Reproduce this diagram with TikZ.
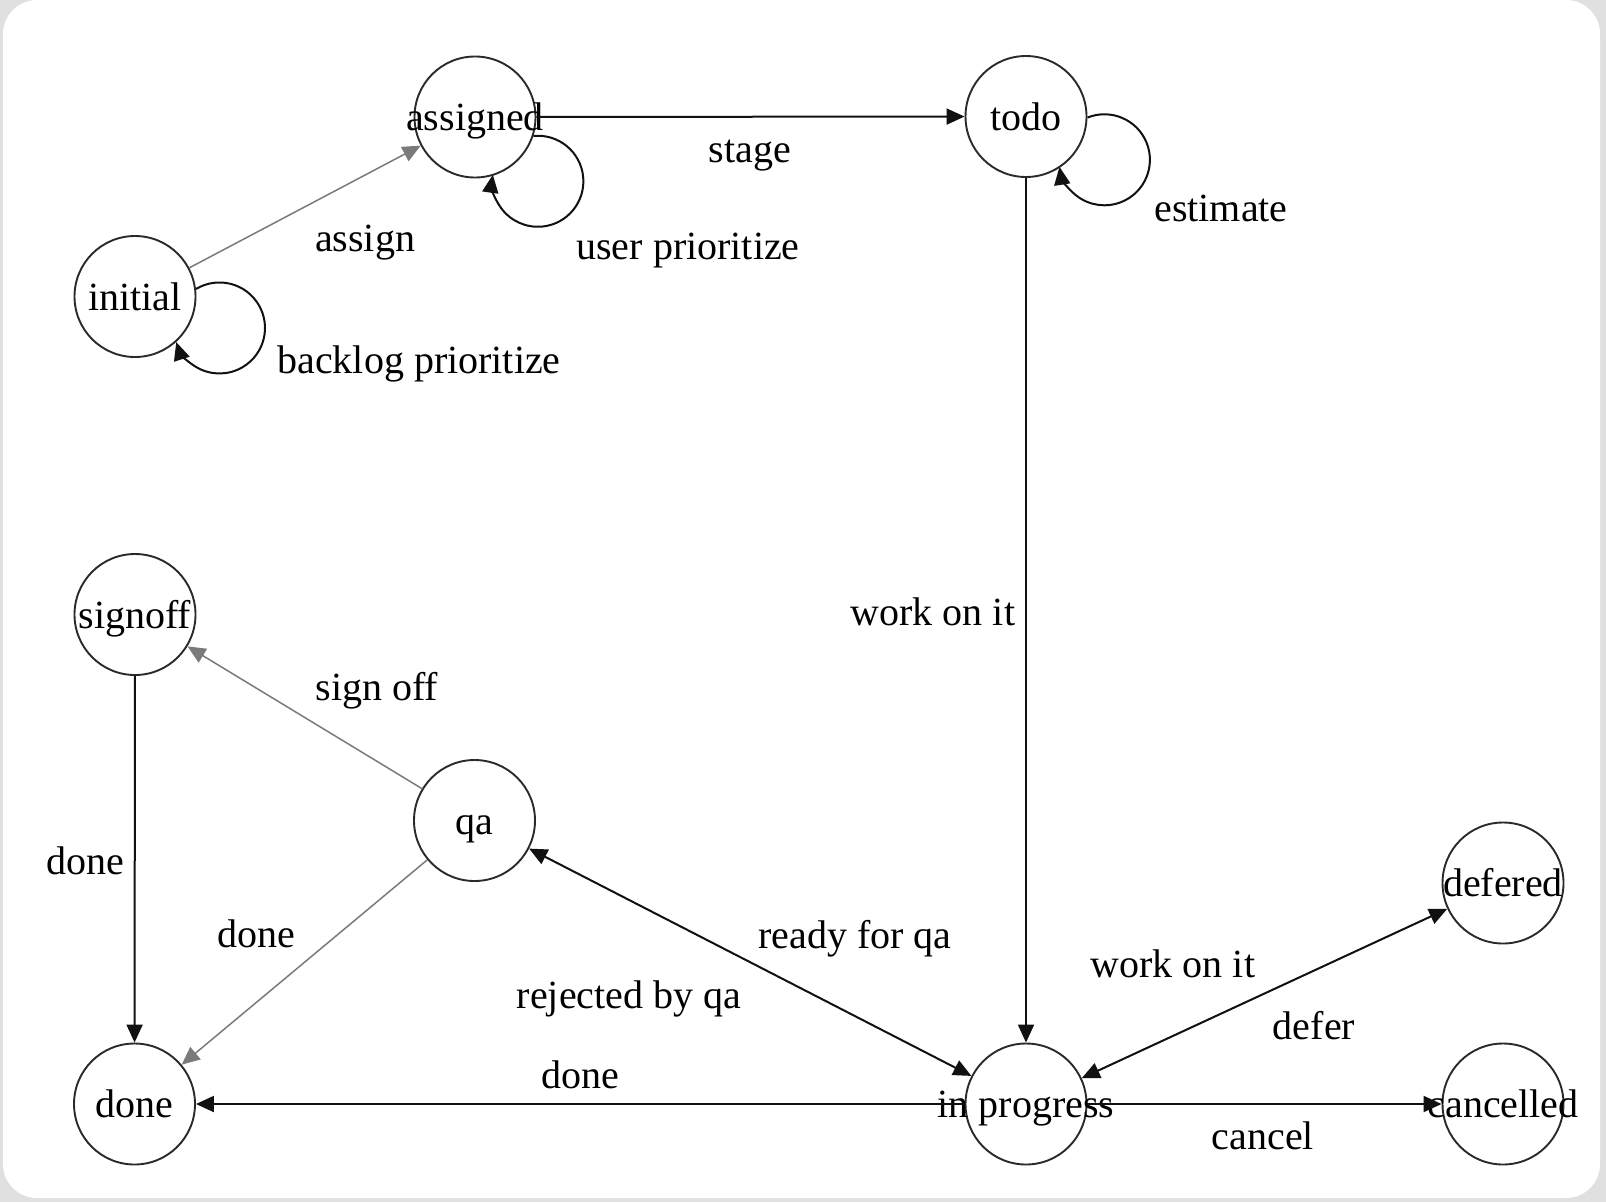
\documentclass[tikz,border=0pt]{standalone}
\usepackage{fontspec}
\setmainfont{Liberation Serif}
\usetikzlibrary{arrows.meta}
\definecolor{bggray}{HTML}{E0E0E0}
\definecolor{circ}{HTML}{2A2A2A}
\definecolor{edgeblack}{HTML}{111111}
\definecolor{edgegray}{HTML}{7A7A7A}
\begin{document}
\begin{tikzpicture}[x=1pt,y=1pt,
  txt/.style={font=\fontsize{40}{48}\selectfont, text=black, inner sep=0pt,
     text height=27.6pt, text depth=0pt},
  state/.style={circle, draw=circ, line width=1.9pt, minimum size=121pt, inner sep=0pt,
     label={[txt]center:#1}},
  tip/.tip={Triangle[length=18pt,width=16pt]},
  edge/.style={draw=edgeblack, line width=2pt, -tip},
  biedge/.style={draw=edgeblack, line width=2pt, tip-tip},
  gedge/.style={draw=edgegray, line width=1.5pt, -tip},
  lbl/.style={txt}]
\useasboundingbox (0,0) rectangle (1606,-1202);
\fill[bggray] (0,0) rectangle (1606,-1202);
\fill[white, rounded corners=34pt] (3,0) rectangle (1600,-1198);

\node[state=initial]     (initial)   at (135,-296.5) {};
\node[state=assigned]    (assigned)  at (475,-117) {};
\node[state=todo]        (todo)      at (1026,-116.5) {};
\node[state=signoff]     (signoff)   at (135,-614.5) {};
\node[state=qa]          (qa)        at (474.5,-820.5) {};
\node[state=done]        (done)      at (134.5,-1104) {};
\node[state={in progress}] (inprog)  at (1026,-1104) {};
\node[state=defered]     (defered)   at (1503,-883) {};
\node[state=cancelled]   (cancelled) at (1503,-1104) {};

% edges
\draw[gedge] (initial) -- (assigned);
\draw[edge] (initial.7.5) arc[start angle=121.1, end angle=-161.9, radius=45.5];
\draw[edge] (assigned.-18.75) arc[start angle=95.6, end angle=-188.2, radius=45.5];
\draw[edge] (assigned) -- (todo);
\draw[edge] (todo.-1.7) arc[start angle=111.9, end angle=-171.1, radius=45.5];
\draw[edge] (todo) -- (inprog);
\draw[edge] (inprog) -- (done);
\draw[edge] (inprog) -- (cancelled);
\draw[biedge] (inprog) -- (defered);
\draw[biedge] (inprog) -- (qa);
\draw[gedge] (qa) -- (signoff);
\draw[gedge] (qa) -- (done);
\draw[edge] (signoff) -- (done);

% labels
\node[lbl] (l1)  at (365,-238) {assign};
\node[lbl] (l2)  at (419,-360) {backlog prioritize};
\node[lbl] (l3)  at (688,-246) {user prioritize};
\node[lbl] (l4)  at (750,-149) {stage};
\node[lbl] (l5)  at (1221,-208) {estimate};
\node[lbl] (l6)  at (933,-612) {work on it};
\node[lbl] (l7)  at (377,-687) {sign off};
\node[lbl] (l8)  at (85,-861) {done};
\node[lbl] (l9)  at (256,-934) {done};
\node[lbl] (l10) at (855,-935) {ready for qa};
\node[lbl] (l11) at (629,-995) {rejected by qa};
\node[lbl] (l12) at (580,-1075) {done};
\node[lbl] (l13) at (1173,-964) {work on it};
\node[lbl] (l14) at (1314,-1026) {defer};
\node[lbl] (l15) at (1263,-1136) {cancel};
\end{tikzpicture}
\end{document}
